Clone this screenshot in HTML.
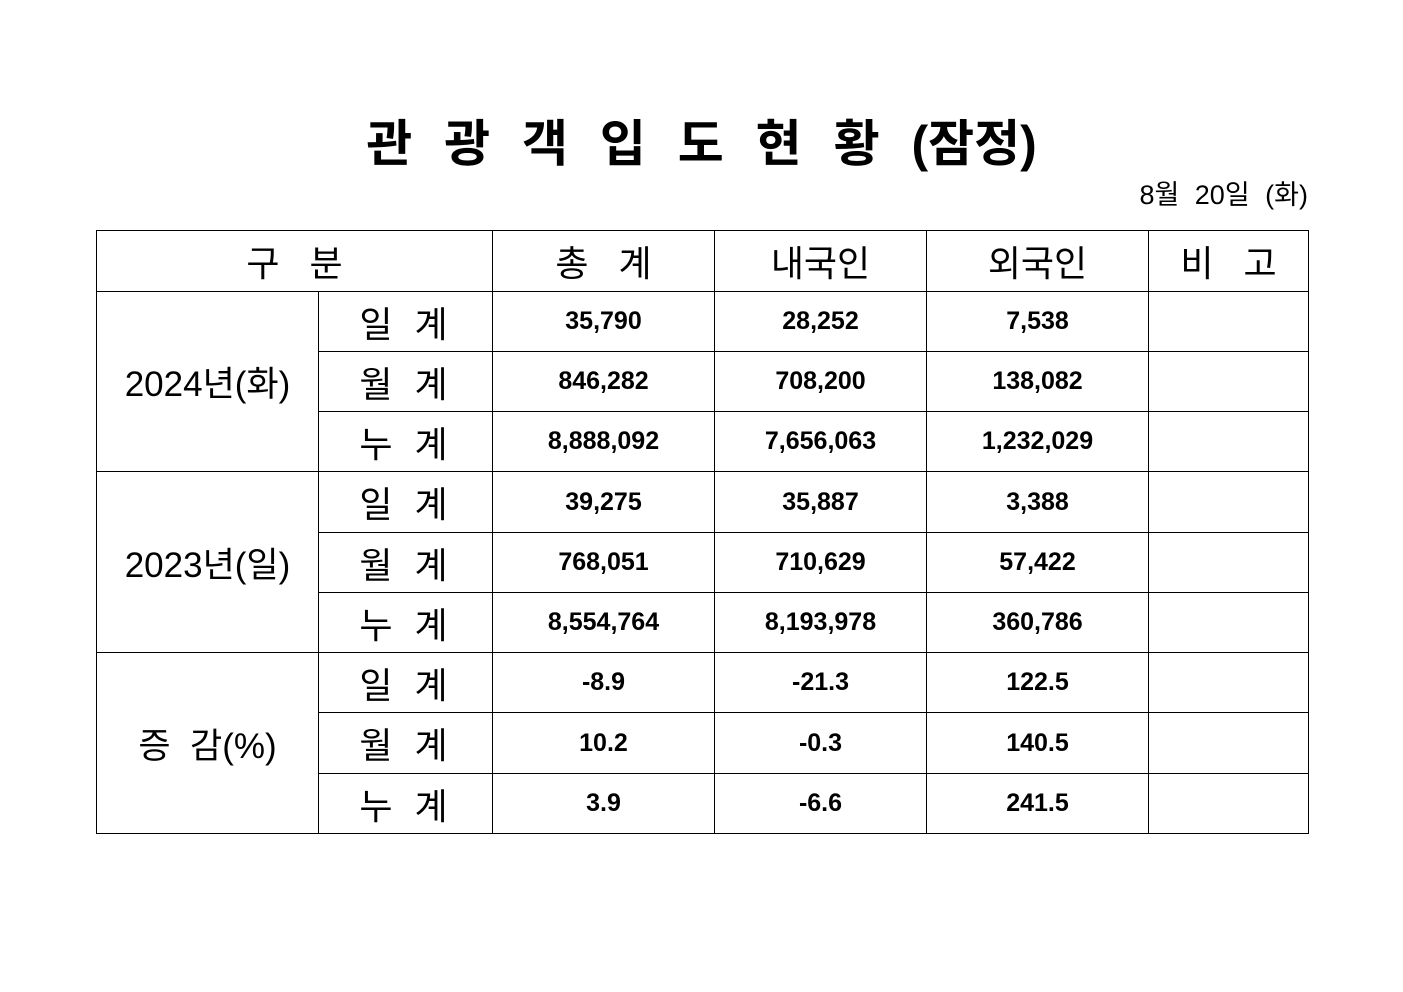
<!DOCTYPE html>
<html><head><meta charset="utf-8"><style>
body{margin:0;width:1403px;height:992px;background:#fff;position:relative;font-family:"Liberation Sans","Noto Sans CJK KR","NanumGothic",sans-serif;color:#000;overflow:hidden}
.title{position:absolute;left:0;width:1403px;top:112px;text-align:center;font-size:50px;font-weight:bold;letter-spacing:6px;line-height:64px;word-spacing:6px}
.title span{letter-spacing:0}
.date{position:absolute;right:95px;top:178px;font-size:27px;line-height:34px;word-spacing:8px}
table{position:absolute;left:96px;top:230px;border-collapse:collapse;table-layout:fixed}
td{border:1px solid #000;padding:0;text-align:center;height:59px}
.h{font-size:36px}
.n{font-size:25px;font-weight:bold}
.l{font-size:36px;letter-spacing:4px;word-spacing:4px}
.g{font-size:35px}
</style></head><body>
<div class="title">관 광 객 입 도 현 황 <span>(잠정)</span></div>
<div class="date">8월 20일 (화)</div>
<table>
<colgroup><col style="width:222px"><col style="width:174px"><col style="width:222px"><col style="width:212px"><col style="width:222px"><col style="width:160px"></colgroup>
<tr><td colspan="2" class="h" style="height:60px">구 &nbsp;&nbsp;분</td><td class="h">총 &nbsp;&nbsp;계</td><td class="h">내국인</td><td class="h">외국인</td><td class="h">비 &nbsp;&nbsp;고</td></tr>
<tr><td rowspan="3" class="g">2024년(화)</td><td class="l">일 계</td><td class="n">35,790</td><td class="n">28,252</td><td class="n">7,538</td><td></td></tr>
<tr><td class="l">월 계</td><td class="n">846,282</td><td class="n">708,200</td><td class="n">138,082</td><td></td></tr>
<tr><td class="l">누 계</td><td class="n">8,888,092</td><td class="n">7,656,063</td><td class="n">1,232,029</td><td></td></tr>
<tr><td rowspan="3" class="g">2023년(일)</td><td class="l" style="height:60px">일 계</td><td class="n">39,275</td><td class="n">35,887</td><td class="n">3,388</td><td></td></tr>
<tr><td class="l">월 계</td><td class="n">768,051</td><td class="n">710,629</td><td class="n">57,422</td><td></td></tr>
<tr><td class="l">누 계</td><td class="n">8,554,764</td><td class="n">8,193,978</td><td class="n">360,786</td><td></td></tr>
<tr><td rowspan="3" class="g">증 &nbsp;감(%)</td><td class="l">일 계</td><td class="n">-8.9</td><td class="n">-21.3</td><td class="n">122.5</td><td></td></tr>
<tr><td class="l" style="height:60px">월 계</td><td class="n">10.2</td><td class="n">-0.3</td><td class="n">140.5</td><td></td></tr>
<tr><td class="l">누 계</td><td class="n">3.9</td><td class="n">-6.6</td><td class="n">241.5</td><td></td></tr>
</table>
</body></html>
